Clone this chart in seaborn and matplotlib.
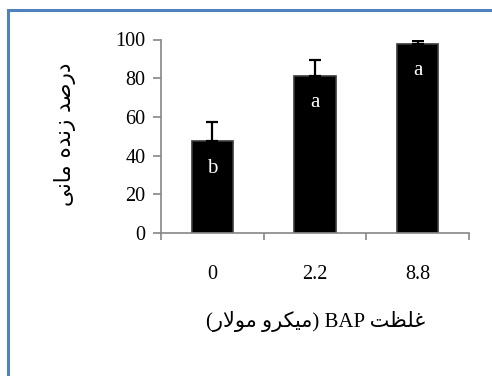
import matplotlib
matplotlib.use("Agg")
import matplotlib.pyplot as plt
import seaborn as sns
from matplotlib.patches import Rectangle

# data
concentrations = ["0", "2.2", "8.8"]
survival_mean = [47.5, 81.2, 97.8]
survival_err = [9.7, 8.2, 1.2]
group_letters = ["b", "a", "a"]

y_label = "درصد زنده مانی"
x_label_fa = "غلظت"
x_label_unit = "میکرو مولار"

# minimal persian shaping (matplotlib has no complex text layout)
FORMS = {
    "ا": ("\uFE8D", "\uFE8E", None, None),
    "د": ("\uFEA9", "\uFEAA", None, None),
    "ر": ("\uFEAD", "\uFEAE", None, None),
    "ز": ("\uFEAF", "\uFEB0", None, None),
    "و": ("\uFEED", "\uFEEE", None, None),
    "ص": ("\uFEB9", "\uFEBA", "\uFEBB", "\uFEBC"),
    "ن": ("\uFEE5", "\uFEE6", "\uFEE7", "\uFEE8"),
    "ه": ("\uFEE9", "\uFEEA", "\uFEEB", "\uFEEC"),
    "م": ("\uFEE1", "\uFEE2", "\uFEE3", "\uFEE4"),
    "ی": ("\uFBFC", "\uFBFD", "\uFBFE", "\uFBFF"),
    "غ": ("\uFECD", "\uFECE", "\uFECF", "\uFED0"),
    "ل": ("\uFEDD", "\uFEDE", "\uFEDF", "\uFEE0"),
    "ظ": ("\uFEC5", "\uFEC6", "\uFEC7", "\uFEC8"),
    "ت": ("\uFE95", "\uFE96", "\uFE97", "\uFE98"),
    "ک": ("\uFB8E", "\uFB8F", "\uFB90", "\uFB91"),
}


def dual(c):
    return c in FORMS and FORMS[c][2] is not None


def shape(text):
    out = []
    i = 0
    while i < len(text):
        c = text[i]
        if c not in FORMS:
            out.append(c)
            i += 1
            continue
        prev = text[i - 1] if i > 0 else ""
        join_prev = dual(prev)
        if c == "ل" and i + 1 < len(text) and text[i + 1] == "ا":
            out.append("\uFEFC" if join_prev else "\uFEFB")
            i += 2
            continue
        nxt = text[i + 1] if i + 1 < len(text) else ""
        join_next = dual(c) and nxt in FORMS
        iso, fin, ini, med = FORMS[c]
        if join_prev and join_next:
            out.append(med)
        elif join_prev:
            out.append(fin)
        elif join_next:
            out.append(ini)
        else:
            out.append(iso)
        i += 1
    return "".join(reversed(out))


plt.rcParams["font.family"] = ["Liberation Serif", "DejaVu Sans"]

fig = plt.figure(figsize=(4.92, 3.76), dpi=100)
W, H = 492, 376
ax = fig.add_axes([161 / W, 1 - 233 / H, 308 / W, 193.5 / H])

sns.barplot(x=concentrations, y=survival_mean, order=concentrations, color="black",
            width=0.4, errorbar=None, edgecolor="#3a3a3a", linewidth=1.2, ax=ax)
ax.errorbar(range(len(concentrations)), survival_mean,
            yerr=[[0] * len(survival_err), survival_err], fmt="none",
            ecolor="black", elinewidth=1.6, capsize=4, capthick=1.6, zorder=1)

for i, (m, lab) in enumerate(zip(survival_mean, group_letters)):
    ax.text(i, m - 14, lab, color="white", ha="center", va="center", fontsize=15,
            family="Liberation Serif")

ax.set_xlim(-0.5, 2.5)
ax.set_ylim(0, 100)
ax.set_yticks([0, 20, 40, 60, 80, 100])
ax.set_xticks([-0.5, 0.5, 1.5, 2.5], minor=True)
ax.tick_params(axis="x", which="major", length=0, pad=23, labelsize=14.5)
ax.tick_params(axis="x", which="minor", length=5, width=1.2, color="#868686", direction="out")
ax.tick_params(axis="y", length=6, width=1.2, color="#868686", direction="out", pad=5, labelsize=14.5)
ax.set_xlabel("")
ax.set_ylabel("")
for s in ["top", "right"]:
    ax.spines[s].set_visible(False)
for s in ["left", "bottom"]:
    ax.spines[s].set_color("#868686")
    ax.spines[s].set_linewidth(1.2)

fig.text(65 / W, 1 - 134 / H, shape(y_label), rotation=90, ha="center", va="center",
         fontsize=15.5, family="DejaVu Sans")
xlab = "(" + shape(x_label_unit) + ") BAP " + shape(x_label_fa)
fig.text(316 / W, 1 - 322 / H, xlab, ha="center", va="center", fontsize=15,
         family=["Liberation Serif", "DejaVu Sans"])

# blue frame around the figure
fig.patches.append(Rectangle((8 / W, -0.1), 1.2, 1.1 - 10 / H, transform=fig.transFigure,
                             fill=False, edgecolor="#4F81BD", linewidth=2.2))

fig.savefig("out.png", dpi=100)
